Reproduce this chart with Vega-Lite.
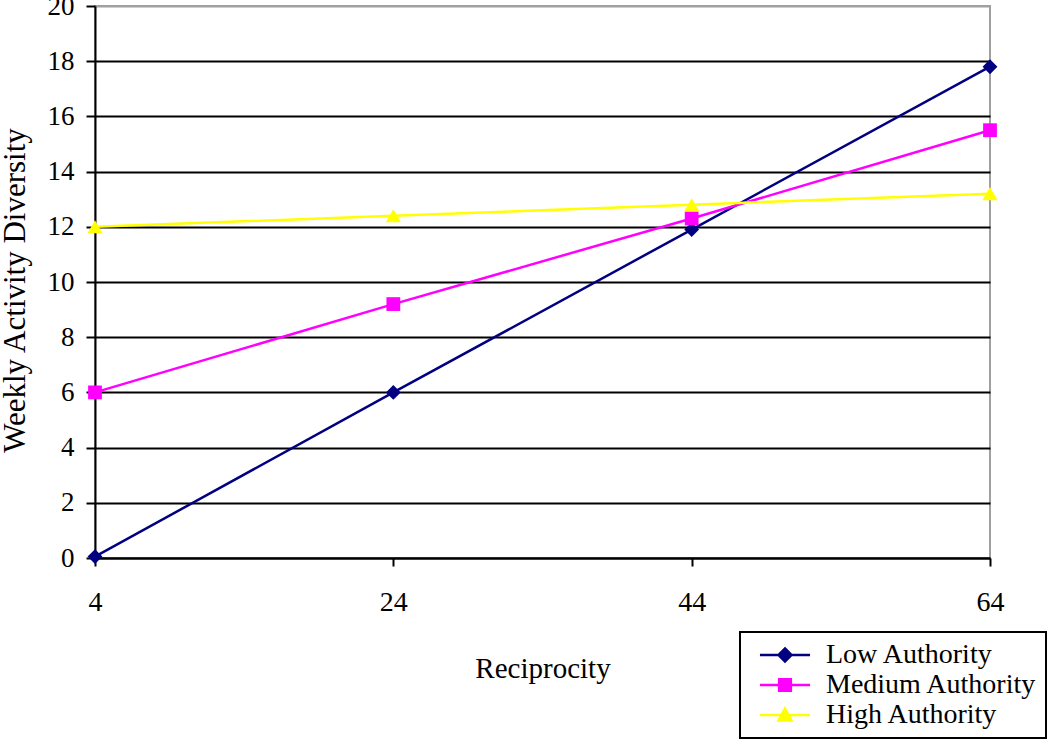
{
  "$schema": "https://vega.github.io/schema/vega-lite/v6.json",
  "width": 895,
  "height": 552,
  "autosize": {"type": "none"},
  "padding": {"left": 95, "top": 6, "right": 60, "bottom": 183},
  "background": "white",
  "config": {
    "view": {"stroke": "#a0a0a0", "strokeWidth": 2},
    "font": "Liberation Serif"
  },
  "data": {
    "values": [
      {"series": "Low Authority", "reciprocity": 4, "diversity": 0.05},
      {"series": "Low Authority", "reciprocity": 24, "diversity": 6.0},
      {"series": "Low Authority", "reciprocity": 44, "diversity": 11.9},
      {"series": "Low Authority", "reciprocity": 64, "diversity": 17.8},
      {"series": "Medium Authority", "reciprocity": 4, "diversity": 6.0},
      {"series": "Medium Authority", "reciprocity": 24, "diversity": 9.2},
      {"series": "Medium Authority", "reciprocity": 44, "diversity": 12.3},
      {"series": "Medium Authority", "reciprocity": 64, "diversity": 15.5},
      {"series": "High Authority", "reciprocity": 4, "diversity": 12.0},
      {"series": "High Authority", "reciprocity": 24, "diversity": 12.4},
      {"series": "High Authority", "reciprocity": 44, "diversity": 12.8},
      {"series": "High Authority", "reciprocity": 64, "diversity": 13.2}
    ]
  },
  "encoding": {
    "x": {
      "field": "reciprocity",
      "type": "quantitative",
      "scale": {"domain": [4, 64], "nice": false, "zero": false},
      "axis": {
        "title": "Reciprocity",
        "values": [4, 24, 44, 64],
        "grid": false,
        "domainColor": "black",
        "domainWidth": 2,
        "tickColor": "black",
        "tickWidth": 2,
        "tickSize": 8,
        "labelFontSize": 28,
        "labelColor": "black",
        "labelPadding": 22,
        "labelFlush": false,
        "labelFont": "Liberation Serif",
        "titleFont": "Liberation Serif",
        "titleFontSize": 29,
        "titleFontWeight": "normal",
        "titleColor": "black",
        "titleY": 119,
        "titleBaseline": "alphabetic"
      }
    },
    "y": {
      "field": "diversity",
      "type": "quantitative",
      "scale": {"domain": [0, 20], "nice": false},
      "axis": {
        "title": "Weekly Activity Diversity",
        "values": [0, 2, 4, 6, 8, 10, 12, 14, 16, 18, 20],
        "grid": true,
        "gridColor": {"condition": {"test": "datum.value === 20", "value": "#a0a0a0"}, "value": "black"},
        "gridWidth": 2,
        "domainColor": "black",
        "domainWidth": 2,
        "tickColor": "black",
        "tickWidth": 2,
        "tickSize": 9,
        "labelFontSize": 27,
        "labelColor": "black",
        "labelPadding": 12,
        "labelFont": "Liberation Serif",
        "titleFont": "Liberation Serif",
        "titleFontSize": 31,
        "titleFontWeight": "normal",
        "titleColor": "black",
        "titleX": -71,
        "titleY": 284,
        "titleAlign": "center",
        "titleAngle": -90,
        "titleBaseline": "alphabetic"
      }
    },
    "color": {
      "field": "series",
      "type": "nominal",
      "scale": {
        "domain": ["Low Authority", "Medium Authority", "High Authority"],
        "range": ["#000080", "#ff00ff", "#ffff00"]
      },
      "legend": {
        "title": null,
        "orient": "none",
        "legendX": 645,
        "legendY": 626,
        "padding": 9,
        "rowPadding": 2,
        "fillColor": "white",
        "strokeColor": "black",
        "labelFont": "Liberation Serif",
        "labelFontSize": 28,
        "labelColor": "black",
        "labelLimit": 500,
        "labelOffset": 27,
        "symbolOffset": 22,
        "symbolSize": 169,
        "symbolStrokeWidth": 2,
        "labelExpr": "datum.label === 'Medium Authority' ? '\u00a0Medium Authority' : datum.label",
        "encode": {
          "legend": {"update": {"strokeWidth": {"value": 2}}},
          "symbols": {
            "update": {
              "shape": {"signal": "datum.value === 'Low Authority' ? 'M-3.85,0H3.85M0,-1L1,0L0,1L-1,0Z' : datum.value === 'Medium Authority' ? 'M-3.85,0H3.85M-0.9,-0.9H0.9V0.9H-0.9Z' : 'M-3.85,0H3.85M0,-1L1,0.85H-1Z'"},
              "fill": {"scale": "color", "field": "value"},
              "stroke": {"scale": "color", "field": "value"},
              "strokeWidth": {"value": 2.5},
              "opacity": {"value": 1},
              "fillOpacity": {"value": 1}
            }
          }
        }
      }
    }
  },
  "layer": [
    {
      "mark": {"type": "line", "strokeWidth": 2.5}
    },
    {
      "transform": [{"filter": "datum.series === 'Low Authority'"}],
      "mark": {"type": "point", "filled": true, "opacity": 1, "size": 220, "shape": "diamond"}
    },
    {
      "transform": [{"filter": "datum.series === 'Medium Authority'"}],
      "mark": {"type": "point", "filled": true, "opacity": 1, "size": 190, "shape": "square"}
    },
    {
      "transform": [{"filter": "datum.series === 'High Authority'"}],
      "mark": {"type": "point", "filled": true, "opacity": 1, "size": 230, "shape": "triangle-up"}
    }
  ]
}
